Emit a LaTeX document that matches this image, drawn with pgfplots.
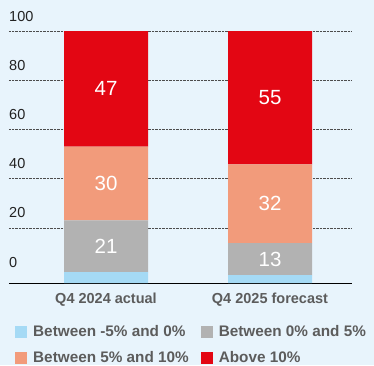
\documentclass[border=0pt]{standalone}
\usepackage{pgfplots}
\pgfplotsset{compat=1.18}
\usepackage{fontspec}
\setmainfont{Liberation Sans}
\definecolor{bgc}{HTML}{E8F4FC}
\definecolor{cblue}{HTML}{A5DAF5}
\definecolor{cgrey}{HTML}{B2B2B2}
\definecolor{csalmon}{HTML}{F29B7B}
\definecolor{cred}{HTML}{E30613}
\definecolor{txt}{HTML}{222222}
\definecolor{lgray}{HTML}{5C5C5C}
\pgfplotsset{sq legend/.style={legend image code/.code={\fill[##1] (0pt,-6pt) rectangle (12pt,6pt);}}}
\begin{document}
\begin{tikzpicture}[x=1pt,y=1pt]
\fill[bgc] (-9,-82) rectangle (365,283);
\clip (-9,-82) rectangle (365,283);
\begin{axis}[
  at={(0,0)}, anchor=south west,
  width=343pt, height=252pt, scale only axis,
  xmin=-0.5915, xmax=1.5, ymin=0, ymax=102.4,
  ybar stacked, bar width=84pt,
  xtick={0,1}, xticklabels={Q4 2024 actual, Q4 2025 forecast},
  xticklabel style={font=\fontsize{14.5}{16}\selectfont\bfseries, text=lgray, anchor=base, yshift=-20pt},
  ytick={22.4,42.4,62.4,82.4,102.4}, yticklabels={20,40,60,80,100},
  extra y ticks={2.4}, extra y tick labels={0}, extra y tick style={grid=none},
  ymajorgrids, grid style={densely dotted, line width=0.7pt, color=black!70},
  yticklabel style={anchor=base west, inner sep=0pt, yshift=10pt, font=\fontsize{14.5}{17}\selectfont, text=txt},
  axis x line*=bottom, axis y line*=left, y axis line style={draw=none},
  tick style={draw=none}, x axis line style={line width=0.8pt, black},
  legend columns=2, legend cell align=left,
  legend entries={Between -5\% and 0\%, Between 0\% and 5\%, Between 5\% and 10\%, Above 10\%},
  legend style={draw=none, fill=none, at={(axis description cs:0,0)}, anchor=north west,
    xshift=6pt, yshift=-40pt, font=\fontsize{15.3}{18}\selectfont\bfseries, text=lgray,
    inner sep=0pt, row sep=10pt, /tikz/every even column/.append style={column sep=6pt},
    nodes={inner xsep=6pt}},
]
\addlegendimage{sq legend, fill=cblue, draw=none}
\addlegendimage{sq legend, fill=cgrey, draw=none}
\addlegendimage{sq legend, fill=csalmon, draw=none}
\addlegendimage{sq legend, fill=cred, draw=none}
\addplot[fill=cblue, draw=none] coordinates {(0,4.4) (1,3.2)};
\addplot[fill=cgrey, draw=none] coordinates {(0,21) (1,13)};
\addplot[fill=csalmon, draw=none] coordinates {(0,30) (1,32)};
\addplot[fill=cred, draw=none] coordinates {(0,47) (1,55)};
\coordinate (a1) at (axis cs:0,14.9);
\coordinate (a2) at (axis cs:0,40.4);
\coordinate (a3) at (axis cs:0,78.9);
\coordinate (b1) at (axis cs:1,9.7);
\coordinate (b2) at (axis cs:1,32.2);
\coordinate (b3) at (axis cs:1,75.3);
\end{axis}
\begin{scope}[every node/.style={text=white, font=\fontsize{20.5}{24}\selectfont}]
\node at (a1) {21};
\node at (a2) {30};
\node at (a3) {47};
\node at (b1) {13};
\node at (b2) {32};
\node at (b3) {55};
\end{scope}
\end{tikzpicture}
\end{document}
